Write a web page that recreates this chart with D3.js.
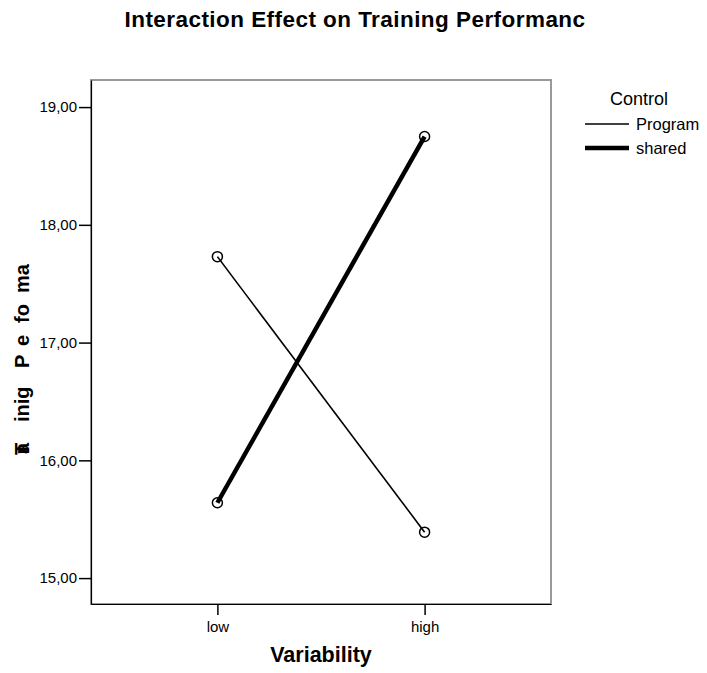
<!DOCTYPE html>
<html>
<head>
<meta charset="utf-8">
<script src="https://cdn.jsdelivr.net/npm/d3@7"></script>
<style>
  body { margin: 0; background: #fff; }
  text { font-family: "Liberation Sans", Arial, sans-serif; }
</style>
</head>
<body>
<svg width="707" height="673"></svg>
<script>
var categories = ["low", "high"];
var seriesNames = ["Program", "shared"];
var programValues = [17.73, 15.39];
var sharedValues = [15.64, 18.75];
var yTicks = [15, 16, 17, 18, 19];

var svg = d3.select("svg"),
    plotLeft = 91, plotRight = 551, plotTop = 80, plotBottom = 604;

var x = d3.scalePoint()
    .domain(categories)
    .range([plotLeft, plotRight])
    .padding(0.61);

var y = d3.scaleLinear()
    .domain([14.78, 19.23])
    .range([plotBottom, plotTop]);

var fmt = function(d) { return d3.format(".2f")(d).replace(".", ","); };

// frame
svg.append("rect")
    .attr("x", plotLeft)
    .attr("y", plotTop)
    .attr("width", plotRight - plotLeft)
    .attr("height", plotBottom - plotTop)
    .attr("fill", "none")
    .attr("stroke", "#999")
    .attr("stroke-width", 2);

// y axis
var yAxis = svg.append("g")
    .attr("transform", "translate(" + plotLeft + ",0)")
    .call(d3.axisLeft(y).tickValues(yTicks).tickFormat(fmt).tickSize(12).tickPadding(2).tickSizeOuter(0));
yAxis.select(".domain").attr("stroke", "#000").attr("stroke-width", 1.2);
yAxis.selectAll(".tick line").attr("stroke-width", 1.5);
yAxis.selectAll("text").attr("font-size", 15).attr("fill", "#000");

// x axis
var xAxis = svg.append("g")
    .attr("transform", "translate(0," + plotBottom + ")")
    .call(d3.axisBottom(x).tickSize(11).tickPadding(6).tickSizeOuter(0));
xAxis.select(".domain").attr("stroke", "#000").attr("stroke-width", 1.2);
xAxis.selectAll(".tick line").attr("stroke-width", 1.5);
xAxis.selectAll("text").attr("font-size", 15).attr("fill", "#000");

var line = d3.line()
    .x(function(d, i) { return x(categories[i]); })
    .y(function(d) { return y(d); });

var series = [
  { name: seriesNames[0], values: programValues, width: 1.6 },
  { name: seriesNames[1], values: sharedValues, width: 4.5 }
];

series.forEach(function(s) {
  svg.append("path")
      .attr("d", line(s.values))
      .attr("fill", "none")
      .attr("stroke", "#000")
      .attr("stroke-width", s.width);

  svg.selectAll(null)
      .data(s.values)
    .enter().append("circle")
      .attr("cx", function(d, i) { return x(categories[i]); })
      .attr("cy", function(d) { return y(d); })
      .attr("r", 5)
      .attr("fill", "none")
      .attr("stroke", "#000")
      .attr("stroke-width", 1.5);
});

// title
svg.append("text")
    .attr("x", 355)
    .attr("y", 27)
    .attr("text-anchor", "middle")
    .attr("font-size", 22.5)
    .attr("letter-spacing", 0.45)
    .attr("font-weight", "bold")
    .text("Interaction Effect on Training Performanc");

// x label
svg.append("text")
    .attr("x", 321)
    .attr("y", 662)
    .attr("text-anchor", "middle")
    .attr("font-size", 21.5)
    .attr("font-weight", "bold")
    .text("Variability");

// y label (garbled as in the original)
var yl = svg.append("text")
    .attr("transform", "translate(29,455) rotate(-90)")
    .attr("font-size", 20)
    .attr("font-weight", "bold");
yl.append("tspan").attr("x", 0).text("T");
yl.append("tspan").attr("x", 0.5).text("r");
yl.append("tspan").attr("x", 1).text("a");
yl.append("tspan").attr("x", 33).text("inig");
yl.append("tspan").attr("x", 87).text("P");
yl.append("tspan").attr("x", 109).text("e");
yl.append("tspan").attr("x", 132).text("fo");
yl.append("tspan").attr("x", 162).text("ma");

// legend
var lg = svg.append("g");
lg.append("text")
    .attr("x", 639)
    .attr("y", 105)
    .attr("text-anchor", "middle")
    .attr("font-size", 18)
    .text("Control");
series.forEach(function(s, i) {
  var ly = 124 + i * 24;
  lg.append("line")
      .attr("x1", 585).attr("x2", 629)
      .attr("y1", ly).attr("y2", ly)
      .attr("stroke", "#000")
      .attr("stroke-width", s.width);
  lg.append("text")
      .attr("x", 636)
      .attr("y", ly + 5.5)
      .attr("font-size", 16.5)
      .text(s.name);
});
</script>
</body>
</html>
